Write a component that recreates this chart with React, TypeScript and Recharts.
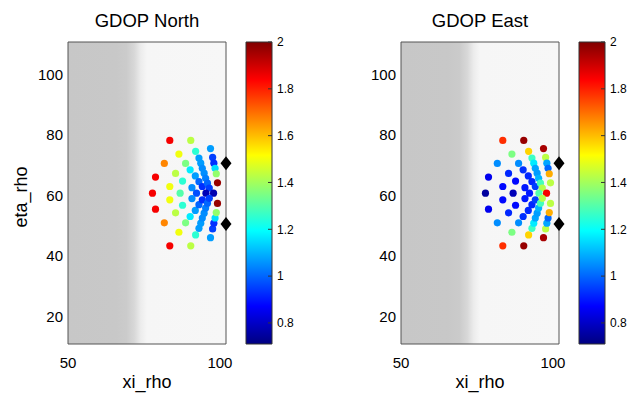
import React from 'react';
import { ScatterChart, Scatter, XAxis, YAxis, ReferenceArea, BarChart, Bar } from 'recharts';

// grid points (xi_rho, eta_rho) and GDOP values
const xiRho = [
  78.8, 81.7, 83.5, 83.5, 85.4, 86.5, 90.4, 87.7, 88.7, 92.0, 96.9, 90.2, 91.9, 93.1,
  94.2, 90.8, 93.1, 93.7, 94.2, 94.8, 95.3, 95.9, 96.5, 97.6, 98.0, 98.4, 98.8, 99.2,
  77.8, 86.9, 92.3, 95.4, 97.9,
  78.8, 81.7, 83.5, 83.5, 85.4, 86.5, 90.4, 87.7, 88.7, 92.0, 96.9, 90.2, 91.9, 93.1,
  94.2, 90.8, 93.1, 93.7, 94.2, 94.8, 95.3, 95.9, 96.5, 97.6, 98.0, 98.4, 98.8, 99.2,
];
const etaRho = [
  66.1, 70.6, 78.2, 63.0, 67.3, 73.7, 78.2, 64.8, 70.6, 74.6, 75.5, 68.5, 66.5, 64.6,
  63.0, 62.6, 72.4, 70.7, 69.0, 67.4, 65.7, 64.1, 62.5, 72.6, 70.7, 69.0, 67.2, 64.2,
  60.8, 60.8, 60.8, 60.8, 60.8,
  55.5, 51.0, 43.4, 58.6, 54.3, 47.9, 43.4, 56.8, 51.0, 47.0, 46.1, 53.1, 55.1, 57.0,
  58.6, 59.0, 49.2, 50.9, 52.6, 54.2, 55.9, 57.5, 59.1, 49.0, 50.9, 52.6, 54.4, 57.4,
];
const gdopNorth = [
  1.85, 1.67, 1.85, 1.5, 1.43, 1.5, 1.43, 1.25, 1.35, 1.25, 1.07, 1.17, 1.07, 1.0,
  0.93, 1.05, 1.07, 1.07, 1.05, 1.05, 1.03, 1.0, 0.95, 0.95, 0.93, 1.15, 1.38, 1.97,
  1.85, 1.3, 0.97, 0.78, 0.77,
  1.85, 1.67, 1.85, 1.5, 1.43, 1.5, 1.43, 1.25, 1.35, 1.25, 1.07, 1.17, 1.07, 1.0,
  0.93, 1.05, 1.07, 1.07, 1.05, 1.05, 1.03, 1.0, 0.95, 0.95, 0.93, 1.15, 1.38, 1.97,
];
const gdopEast = [
  0.85, 1.05, 1.78, 0.88, 0.92, 1.35, 1.97, 0.88, 1.05, 1.57, 1.95, 0.93, 0.92, 0.92,
  0.95, 0.9, 1.27, 1.17, 1.08, 1.07, 1.1, 1.28, 1.42, 1.43, 1.08, 1.0, 1.62, 1.43,
  0.75, 0.78, 0.9, 1.3, 1.85,
  0.85, 1.05, 1.78, 0.88, 0.92, 1.35, 1.97, 0.88, 1.05, 1.57, 1.95, 0.93, 0.92, 0.92,
  0.95, 0.9, 1.27, 1.17, 1.08, 1.07, 1.1, 1.28, 1.42, 1.43, 1.08, 1.0, 1.62, 1.43,
];

// radar sites (black diamonds)
const siteXi = [102, 102];
const siteEta = [70.7, 50.6];

const xDomain = [50, 102];
const yDomain = [11, 110.7];
const xTicks = [50, 100];
const yTicks = [20, 40, 60, 80, 100];
const cRange = [0.71, 2];
const cTicks = [0.8, 1, 1.2, 1.4, 1.6, 1.8, 2];

const font = '"Liberation Sans", Arial, Helvetica, sans-serif';

const clamp = (v: number) => Math.min(1, Math.max(0, v));
function jet(v: number) {
  const t = clamp((v - cRange[0]) / (cRange[1] - cRange[0]));
  const r = Math.round(255 * clamp(1.5 - Math.abs(4 * t - 3)));
  const g = Math.round(255 * clamp(1.5 - Math.abs(4 * t - 2)));
  const b = Math.round(255 * clamp(1.5 - Math.abs(4 * t - 1)));
  return `rgb(${r},${g},${b})`;
}

const Dot = (p: any) => <circle cx={p.cx} cy={p.cy} r={3.6} fill={jet(p.payload.v)} />;
const Diamond = (p: any) => (
  <polygon
    points={`${p.cx},${p.cy - 7} ${p.cx + 5.5},${p.cy} ${p.cx},${p.cy + 7} ${p.cx - 5.5},${p.cy}`}
    fill="#000"
  />
);

interface PanelProps {
  left: number;
  title: string;
  values: number[];
  yLabel?: string;
}

const Panel: React.FC<PanelProps> = ({ left, title, values, yLabel }) => {
  const points = xiRho.map((x, i) => ({ x, y: etaRho[i], v: values[i] }));
  const sites = siteXi.map((x, i) => ({ x, y: siteEta[i] }));
  const tickStyle = { fontSize: 15, fill: '#000' };

  return (
    <div style={{ position: 'absolute', left, top: 0, width: 300, height: 398 }}>
      <div style={{ position: 'absolute', left: 47, top: 11, width: 200, textAlign: 'center', fontSize: 18.5, lineHeight: '19px' }}>
        {title}
      </div>
      {yLabel && (
        <div style={{ position: 'absolute', left: -29, top: 187, width: 100, height: 20, textAlign: 'center', fontSize: 18, lineHeight: '20px', transform: 'rotate(-90deg)' }}>
          {yLabel}
        </div>
      )}
      <div style={{ position: 'absolute', left: 68, top: 373, width: 158, textAlign: 'center', fontSize: 18, lineHeight: '18px' }}>
        xi_rho
      </div>

      <div style={{ position: 'absolute', left: 0, top: 0 }}>
        <ScatterChart width={244} height={398} margin={{ top: 42, right: 18, bottom: 0, left: 0 }}>
          <defs>
            <linearGradient id={`bg${left}`} x1="0" y1="0" x2="1" y2="0">
              <stop offset="0" stopColor="#c7c7c7" />
              <stop offset="0.30" stopColor="#c8c8c8" />
              <stop offset="0.37" stopColor="#cbcbcb" />
              <stop offset="0.42" stopColor="#d8d8d8" />
              <stop offset="0.46" stopColor="#ececec" />
              <stop offset="0.50" stopColor="#f6f6f6" />
              <stop offset="1" stopColor="#f7f7f7" />
            </linearGradient>
          </defs>
          <XAxis
            type="number"
            dataKey="x"
            domain={xDomain}
            ticks={xTicks}
            height={54}
            tickLine={false}
            axisLine={false}
            tickSize={0}
            tickMargin={13}
            tick={tickStyle}
          />
          <YAxis
            type="number"
            dataKey="y"
            domain={yDomain}
            ticks={yTicks}
            width={68}
            tickLine={false}
            axisLine={false}
            tickSize={0}
            tickMargin={5}
            tick={tickStyle}
          />
          <ReferenceArea
            x1={xDomain[0]}
            x2={xDomain[1]}
            y1={yDomain[0]}
            y2={yDomain[1]}
            fill={`url(#bg${left})`}
            fillOpacity={1}
            stroke="#555"
            strokeWidth={1}
          />
          <Scatter data={points} shape={Dot} isAnimationActive={false} />
          <Scatter data={sites} shape={Diamond} isAnimationActive={false} />
        </ScatterChart>
      </div>

      <div style={{ position: 'absolute', left: 230, top: 0 }}>
        <BarChart
          width={70}
          height={398}
          data={[{ name: 'c', range: cRange }]}
          margin={{ top: 42, right: 0, bottom: 54, left: 16 }}
          barCategoryGap={0}
        >
          <defs>
            <linearGradient id={`jet${left}`} x1="0" y1="1" x2="0" y2="0">
              <stop offset="0" stopColor="#000080" />
              <stop offset="0.125" stopColor="#0000ff" />
              <stop offset="0.375" stopColor="#00ffff" />
              <stop offset="0.625" stopColor="#ffff00" />
              <stop offset="0.875" stopColor="#ff0000" />
              <stop offset="1" stopColor="#800000" />
            </linearGradient>
          </defs>
          <XAxis dataKey="name" hide />
          <YAxis
            yAxisId="l"
            orientation="left"
            type="number"
            domain={cRange}
            ticks={cTicks}
            width={0}
            axisLine={false}
            tickSize={-4}
            tick={false}
            stroke="#333"
          />
          <YAxis
            yAxisId="r"
            orientation="right"
            type="number"
            domain={cRange}
            ticks={cTicks}
            width={28}
            axisLine={false}
            tickSize={-4}
            tickMargin={9}
            stroke="#333"
            tick={{ fontSize: 12, fill: '#000' }}
          />
          <Bar yAxisId="r" dataKey="range" fill={`url(#jet${left})`} stroke="#333" strokeWidth={1} isAnimationActive={false} />
        </BarChart>
      </div>
    </div>
  );
}

export default function App() {
  return (
    <div style={{ position: 'absolute', left: 0, top: 0, width: 627, height: 398, background: '#fff', fontFamily: font, color: '#000' }}>
      <Panel left={0} title="GDOP North" values={gdopNorth} yLabel="eta_rho" />
      <Panel left={333} title="GDOP East" values={gdopEast} />
    </div>
  );
}
